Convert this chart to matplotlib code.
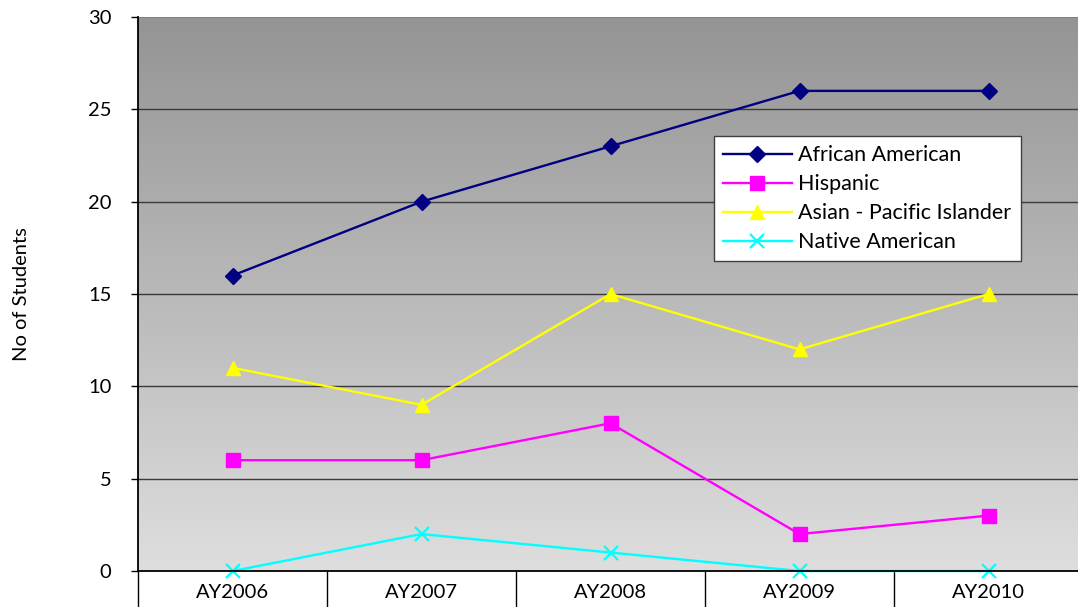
import matplotlib
matplotlib.use("Agg")
import matplotlib.pyplot as plt
import numpy as np
from matplotlib.ticker import FixedLocator, MultipleLocator

categories = ["AY2006", "AY2007", "AY2008", "AY2009", "AY2010"]
african_american = [16, 20, 23, 26, 26]
hispanic = [6, 6, 8, 2, 3]
asian_pacific = [11, 9, 15, 12, 15]
native_american = [0, 2, 1, 0, 0]

plt.rcParams['font.family'] = ['Lato', 'DejaVu Sans']

W, H = 1078, 607
fig = plt.figure(figsize=(W/100, H/100), dpi=100)
ax = fig.add_axes([138/W, (H-571)/H, (1083-138)/W, (571-17)/H])

x = np.arange(len(categories))
ax.set_xlim(-0.5, len(categories)-0.5)
ax.set_ylim(0, 30)

# gradient background
grad = np.linspace(0, 1, 256).reshape(-1, 1)
top = np.array([0x94, 0x94, 0x94]) / 255
bot = np.array([0xde, 0xde, 0xde]) / 255
img = top[None, None, :] * (1 - grad[:, :, None]) + bot[None, None, :] * grad[:, :, None]
ax.imshow(img, extent=[-0.5, len(categories)-0.5, 0, 30], aspect='auto', origin='upper', zorder=0)

for yv in range(5, 30, 5):
    ax.axhline(yv, color='#3a3a3a', lw=1.0, zorder=1)
ax.axhline(30, color='#808080', lw=1.5, zorder=1)

lw = 1.7
ax.plot(x, african_american, color='#000080', marker='D', ms=8, lw=lw, label='African American', zorder=3)
ax.plot(x, hispanic, color='#FF00FF', marker='s', ms=10, lw=lw, label='Hispanic', zorder=3)
ax.plot(x, asian_pacific, color='#FFFF00', marker='^', ms=10, lw=lw, label='Asian - Pacific Islander', zorder=3)
ax.plot(x, native_american, color='#00FFFF', marker='x', ms=10, mew=1.6, lw=lw, label='Native American', zorder=3, clip_on=False)

for s in ['top', 'right']:
    ax.spines[s].set_visible(False)
ax.spines['left'].set_color('black')
ax.spines['left'].set_linewidth(1.3)
ax.spines['bottom'].set_color('black')
ax.spines['bottom'].set_linewidth(1.3)
ax.spines['left'].set_zorder(4)
ax.spines['bottom'].set_zorder(4)

ax.yaxis.set_major_locator(MultipleLocator(5))
ax.tick_params(axis='y', direction='out', length=5, width=1, labelsize=14.5, pad=14, color='black')
ax.set_xticks(x)
ax.set_xticklabels(categories)
ax.xaxis.set_minor_locator(FixedLocator(np.arange(-0.5, len(categories), 1.0)))
ax.tick_params(axis='x', which='major', length=0, labelsize=14.5, pad=9)
ax.tick_params(axis='x', which='minor', length=26, width=1, color='black')

fig.text(22/W, 1-294/H, 'No of Students', rotation=90, ha='center', va='center', fontsize=14.5)

leg = ax.legend(loc='upper left', bbox_to_anchor=(714/W, 1-136/H), bbox_transform=fig.transFigure,
                frameon=True, fancybox=False, fontsize=15.5, handlelength=3.2, handletextpad=0.3,
                labelspacing=0.42, borderpad=0.42, borderaxespad=0)
leg.get_frame().set_edgecolor('#404040')
leg.get_frame().set_linewidth(1.0)
leg.get_frame().set_facecolor('white')
leg.get_frame().set_alpha(1)
leg.set_zorder(5)

fig.savefig('out.png', dpi=100)
